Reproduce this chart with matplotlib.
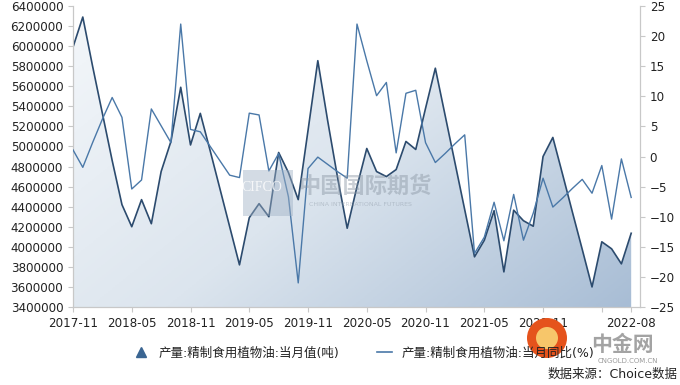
import numpy as np
import pandas as pd
import matplotlib
matplotlib.use('Agg')
import matplotlib.pyplot as plt
from matplotlib.colors import LinearSegmentedColormap
from matplotlib.patches import Polygon, Circle, Rectangle
from matplotlib.lines import Line2D

plt.rcParams['font.family'] = ['DejaVu Sans', 'Noto Sans CJK SC']

# monthly categories
months = pd.period_range('2017-11', '2022-08', freq='M').strftime('%Y-%m').tolist()

# 产量:精制食用植物油:当月值(吨)
output = [5990000, 6290000, 5800000, 5330000, 4860000, 4420000, 4200000, 4470000,
          4230000, 4750000, 5050000, 5590000, 5015000, 5330000, 4960000, 4580000,
          4200000, 3820000, 4290000, 4430000, 4300000, 4940000, 4740000, 4470000,
          5160000, 5855000, 5260000, 4700000, 4185000, 4600000, 4980000, 4750000,
          4700000, 4770000, 5050000, 4970000, 5380000, 5780000, 5310000, 4840000,
          4370000, 3900000, 4065000, 4360000, 3750000, 4365000, 4260000, 4205000,
          4900000, 5090000, 4720000, 4345000, 3975000, 3600000, 4050000, 3980000,
          3830000, 4135000]

# 产量:精制食用植物油:当月同比(%)
yoy = [1.1, -1.8, 2.3, 6.2, 9.8, 6.5, -5.4, -3.9, 7.9, 5.1, 2.3, 22.0, 4.5, 4.1,
       1.7, -0.7, -3.1, -3.5, 7.2, 6.9, -2.4, 0.5, -6.7, -21.0, -2.0, -0.1, -1.3,
       -2.5, -3.6, 22.0, 15.9, 10.1, 12.3, 0.6, 10.5, 11.0, 2.3, -1.0, 0.5, 2.1,
       3.6, -16.1, -13.4, -7.6, -14.0, -6.3, -13.9, -9.4, -3.6, -8.4, -6.9, -5.3,
       -3.8, -6.1, -1.5, -10.4, -0.4, -6.8]

label_area = '产量:精制食用植物油:当月值(吨)'
label_line = '产量:精制食用植物油:当月同比(%)'

x = np.arange(len(months))
ymin, ymax = 3400000, 6400000
xmax = len(months) - 1 + 0.9

fig = plt.figure(figsize=(6.8, 3.85), dpi=100)
ax = fig.add_axes([73 / 680, 1 - 307 / 385, (640 - 73) / 680, (307 - 6) / 385])

# gradient area fill (light top-left -> steel blue bottom-right)
cmap = LinearSegmentedColormap.from_list('g', ['#f4f7fa', '#dce5ee', '#a8bdd5'])
xx, yy = np.meshgrid(np.linspace(0, 1, 300), np.linspace(0, 1, 300))
grad = 0.6 * xx + 0.4 * yy
im = ax.imshow(grad, extent=[0, len(months) - 1, ymin, ymax], aspect='auto',
               cmap=cmap, origin='upper', zorder=1, interpolation='bilinear')
verts = [(0, ymin)] + list(zip(x, output)) + [(x[-1], ymin)]
poly = Polygon(verts, closed=True, facecolor='none', edgecolor='none')
ax.add_patch(poly)
im.set_clip_path(poly)
ax.plot(x, output, color='#2c4b6e', lw=1.2, zorder=4)

ax.set_xlim(0, xmax)
ax.set_ylim(ymin, ymax)
ax.set_yticks(np.arange(ymin, ymax + 1, 200000))
ax.set_yticklabels([f'{v:d}' for v in range(ymin, ymax + 1, 200000)])

ticks = list(range(0, 55, 6)) + [len(months) - 1]
tlabels = [months[i] for i in range(0, 55, 6)] + [months[-1]]
tlabels[-2] = ''
ax.set_xticks(ticks)
ax.set_xticklabels(tlabels)

ax2 = ax.twinx()
ax2.plot(x, yoy, color='#4a78a8', lw=1.0, zorder=3)
ax2.set_ylim(-25, 25)
ax2.set_yticks(np.arange(-25, 26, 5))
ax2.set_xlim(0, xmax)
ax2.patch.set_visible(False)

for a in (ax, ax2):
    a.spines['top'].set_visible(False)
    for s in ('left', 'right', 'bottom'):
        a.spines[s].set_color('#c8c8c8')
        a.spines[s].set_linewidth(0.8)
    a.tick_params(axis='both', colors='#c8c8c8', labelcolor='#222222',
                  labelsize=8.6, length=3.5, width=0.8)
ax.tick_params(axis='x', pad=4)

# watermarks
fig.patches.append(Rectangle((243 / 680, 1 - 216 / 385), 50 / 680, 46 / 385,
                             transform=fig.transFigure, facecolor='#9fb0c4',
                             alpha=0.45, edgecolor='none'))
fig.text(262 / 680, 1 - 188 / 385, 'CIFCO', fontsize=10, color='white', alpha=0.8,
         ha='center', va='center', family='Liberation Serif')
fig.text(365 / 680, 1 - 186 / 385, '中国国际期货', fontsize=16, fontweight='bold',
         color='#8a96a3', alpha=0.45, ha='center', va='center')
fig.text(360 / 680, 1 - 205 / 385, 'CHINA INTERNATIONAL FUTURES', fontsize=4.5,
         color='#8a96a3', alpha=0.45, ha='center', va='center')

# legend
handles = [Line2D([], [], marker='^', color='#3a6592', linestyle='None', markersize=7),
           Line2D([], [], color='#4a78a8', lw=1.2)]
fig.legend(handles, [label_area, label_line], loc='center', ncol=2, frameon=False,
           bbox_to_anchor=(0.535, 1 - 353 / 385), fontsize=9, handlelength=1.2,
           columnspacing=3.0, handletextpad=0.8, labelcolor='#222222')

# corner logo + source
fig.patches.append(Circle((5.47, 3.85 - 3.38), 0.2, transform=fig.dpi_scale_trans,
                          facecolor='#e5531c', edgecolor='none'))
fig.patches.append(Circle((5.47, 3.85 - 3.38), 0.11, transform=fig.dpi_scale_trans,
                          facecolor='#f7c66a', edgecolor='none'))
fig.text(622 / 680, 1 - 345 / 385, '中金网', fontsize=15, color='#8c8c8c', alpha=0.8,
         ha='center', va='center', fontweight='bold')
fig.text(628 / 680, 1 - 361 / 385, 'CNGOLD.COM.CN', fontsize=5, color='#9a9a9a',
         ha='center', va='center')
fig.text(678 / 680, 1 - 374 / 385, '数据来源：Choice数据', fontsize=9, color='#222222',
         ha='right', va='center')

fig.savefig('out.png', dpi=100)
